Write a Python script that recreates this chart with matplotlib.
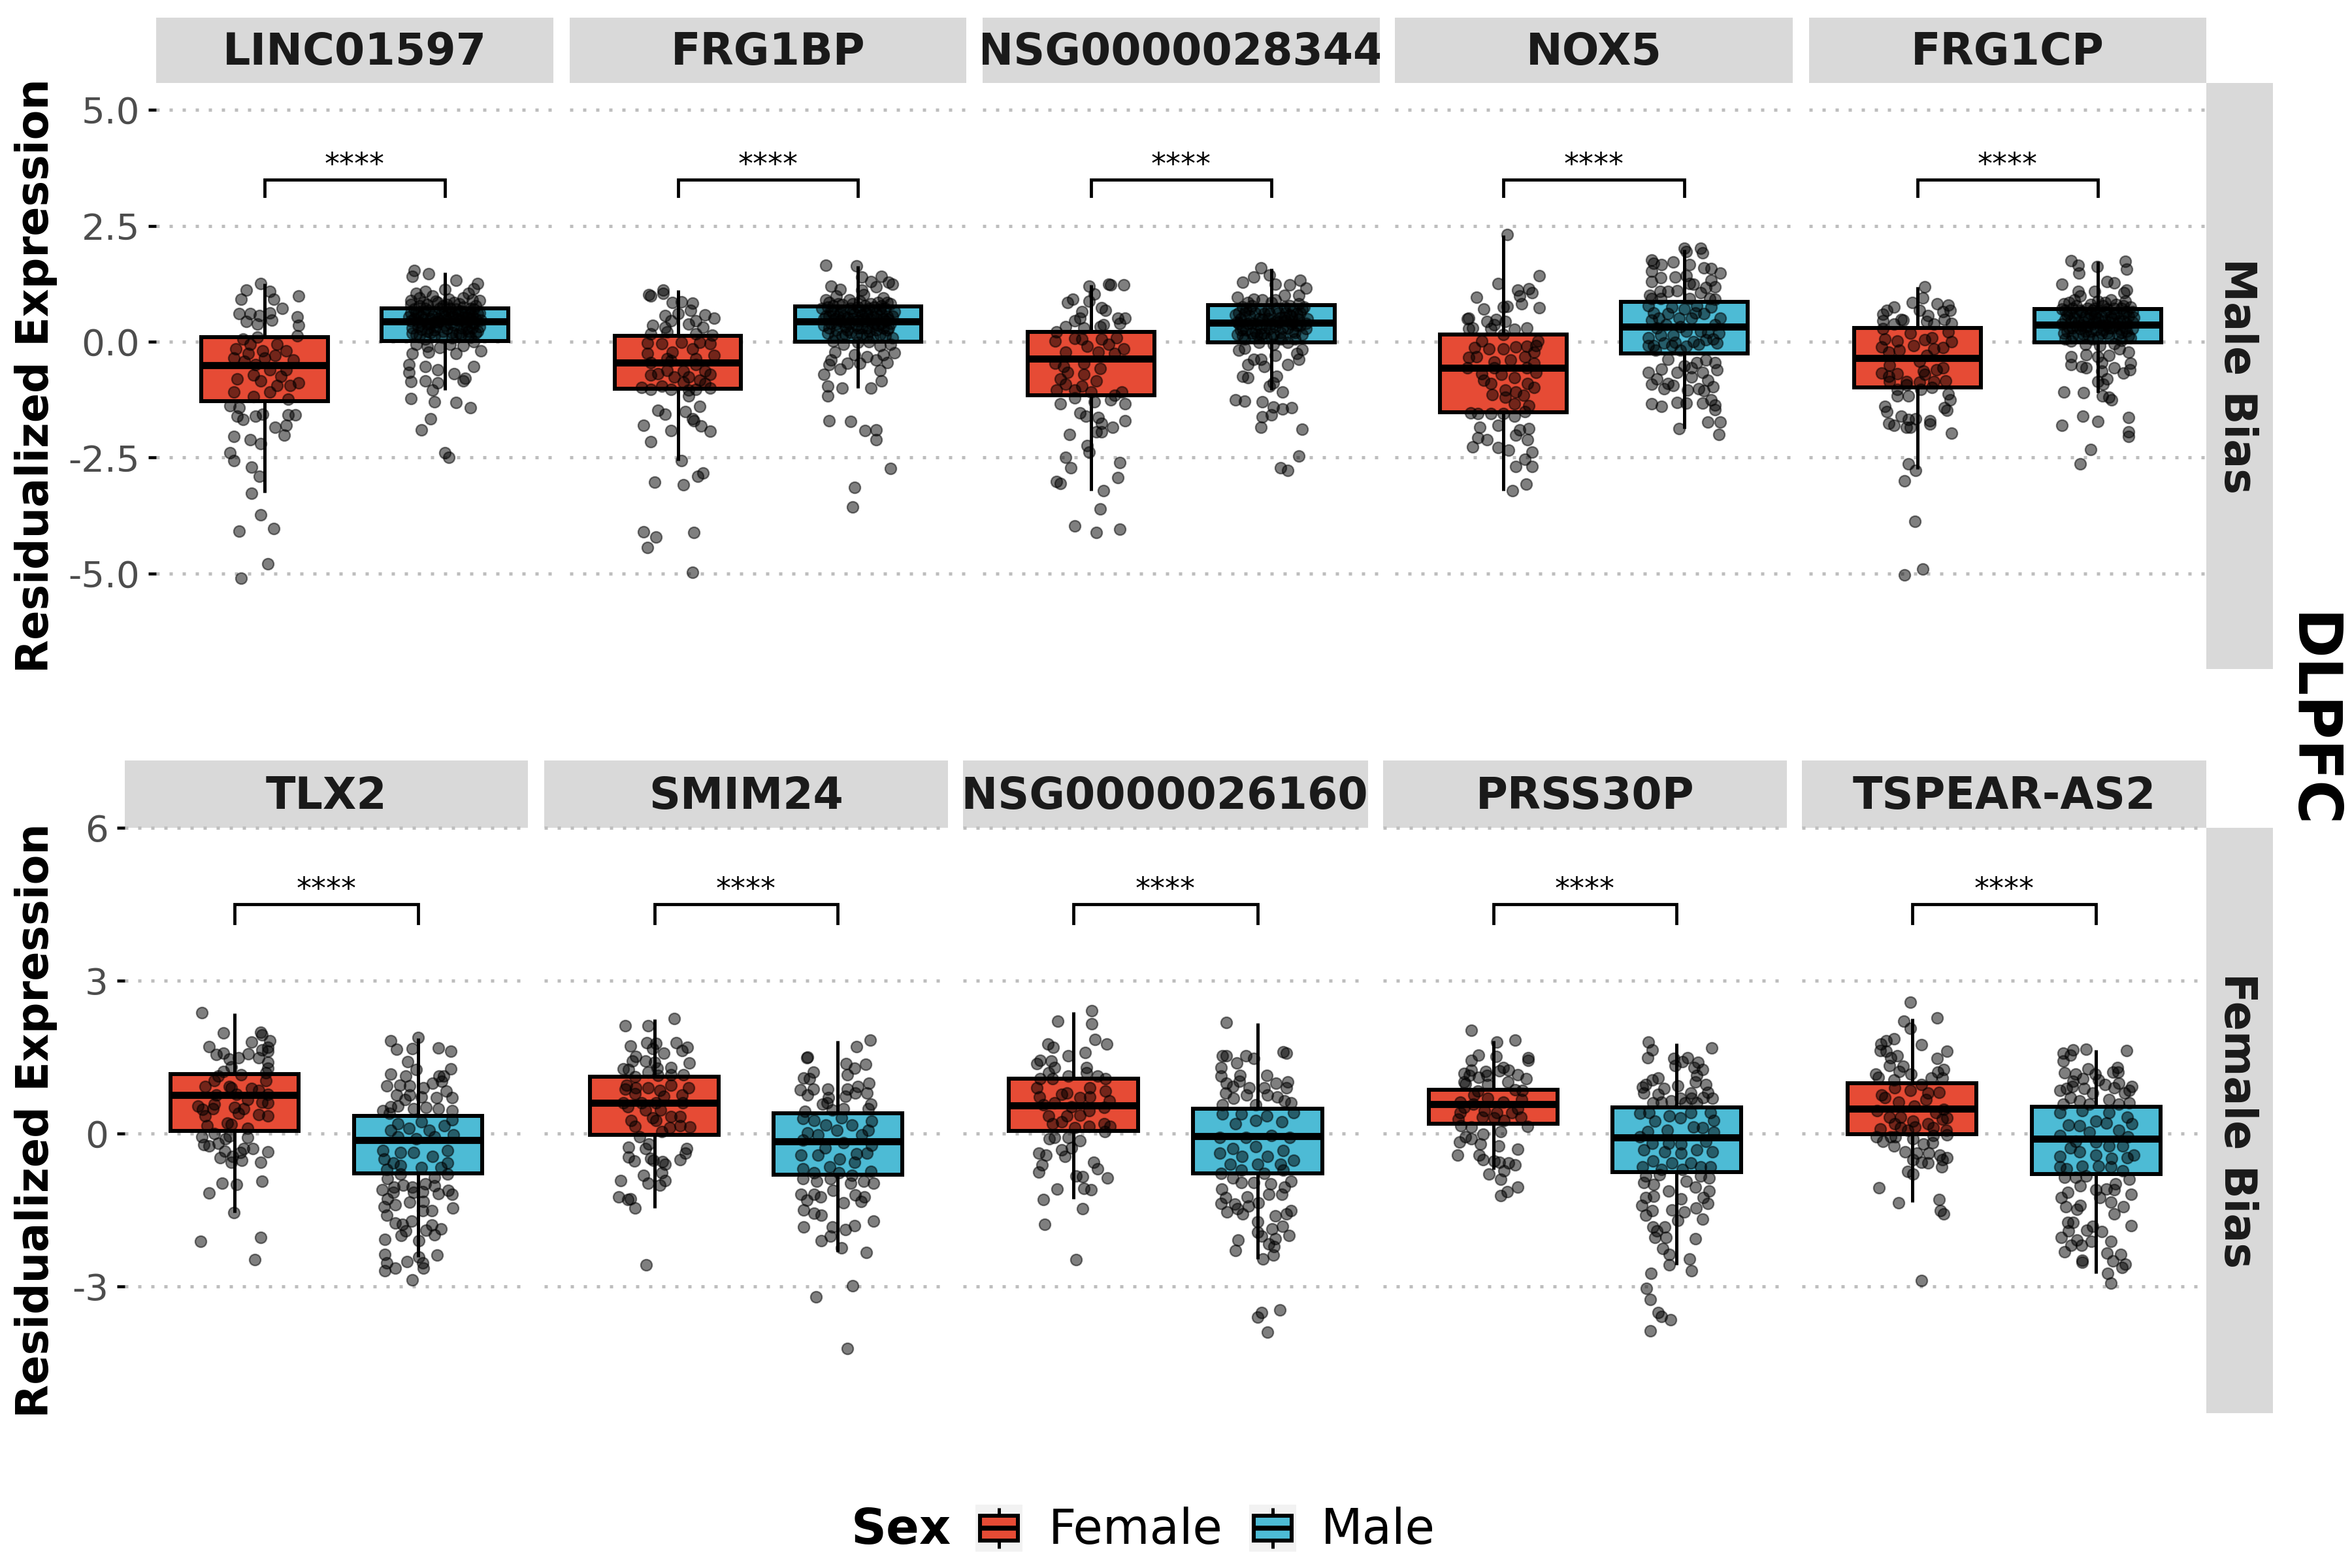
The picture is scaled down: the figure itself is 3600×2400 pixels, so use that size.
import matplotlib
matplotlib.use("Agg")
import matplotlib.pyplot as plt
from matplotlib.patches import Rectangle

plt.rcParams['font.family'] = 'DejaVu Sans'
plt.rcParams['axes.unicode_minus'] = False

FEMALE_COLOR = '#E64B35'
MALE_COLOR = '#4DBBD5'
SEX_LABELS = ['Female', 'Male']
TOP_GENES = ['LINC01597', 'FRG1BP', 'ENSG00000283440', 'NOX5', 'FRG1CP']
BOTTOM_GENES = ['TLX2', 'SMIM24', 'ENSG00000261600', 'PRSS30P', 'TSPEAR-AS2']
TOP_TICKS = [-5.0, -2.5, 0.0, 2.5, 5.0]
BOTTOM_TICKS = [-3, 0, 3, 6]

# box stats: q1, median, q3, whisker low, whisker high
BOX_LINC_F = (-1.28, -.51, .10, -3.26, 1.26)
BOX_LINC_M = (.01, .44, .72, -1.04, 1.50)
BOX_FRG1BP_F = (-1.01, -.45, .13, -2.56, 1.11)
BOX_FRG1BP_M = (0, .43, .76, -1.0, 1.64)
BOX_N283_F = (-1.16, -.36, .21, -3.21, 1.23)
BOX_N283_M = (-.02, .41, .79, -1.05, 1.58)
BOX_NOX5_F = (-1.52, -.56, .15, -3.22, 2.30)
BOX_NOX5_M = (-.25, .32, .86, -1.87, 1.99)
BOX_FRG1CP_F = (-.98, -.35, .29, -2.75, 1.19)
BOX_FRG1CP_M = (-.02, .37, .70, -1.10, 1.74)
BOX_TLX2_F = (.05, .75, 1.16, -1.55, 2.36)
BOX_TLX2_M = (-.78, -.13, .35, -2.42, 1.87)
BOX_SMIM_F = (-.03, .60, 1.12, -1.46, 2.24)
BOX_SMIM_M = (-.81, -.15, .40, -2.32, 1.82)
BOX_N261_F = (.05, .55, 1.07, -1.28, 2.39)
BOX_N261_M = (-.78, -.05, .49, -2.46, 2.17)
BOX_PRSS_F = (.19, .57, .86, -.71, 1.82)
BOX_PRSS_M = (-.76, -.08, .51, -2.58, 1.77)
BOX_TSPEAR_F = (-.02, .48, .98, -1.35, 2.26)
BOX_TSPEAR_M = (-.80, -.10, .53, -2.74, 1.64)

# jittered points: (offset from the group's centre, value)
PTS_LINC_F = [(.19,.98),(-.02,1.26),(-.10,1.11),(.03,1.08),(-.13,.92),(.05,.92),(.10,.72),(-.14,.61),(-.08,.61),(-.03,.56),(.03,.62),(.18,.54),(-.10,.44),(.04,.46),(-.04,.38),(.19,.35),(.18,.12),(-.04,.1),(-.16,-.15),(-.08,-.05),(.07,-.05),(-.01,-.2),(-.17,-.35),(-.09,-.25),(.12,-.2),(.06,-.3),(.16,-.4),(-.05,-.5),(.03,-.6),(.12,-.6),(-.15,-.8),(-.02,-.84),(.19,-.89),(-.17,-1.09),(.07,-.94),(-.06,-1.19),(.03,-1.09),(.13,-1.24),(-.19,-1.38),(-.14,-1.43),(-.15,-1.6),(-.12,-1.68),(-.05,-1.61),(-.01,-1.56),(.13,-1.58),(.17,-1.58),(.06,-1.85),(.12,-1.81),(.11,-2.01),(-.17,-2.05),(-.08,-2.12),(-.02,-2.2),(-.19,-2.4),(-.17,-2.56),(-.07,-2.71),(-.03,-2.9),(-.07,-3.27),(-.02,-3.74),(.05,-4.03),(-.14,-4.09),(.02,-4.79),(-.13,-5.1),(-.12,.05),(.0,-.35),(.09,-.75),(-.11,-.42),(.14,-.95),(-.06,-.72)]
PTS_LINC_M = [(-.17,1.53),(-.09,1.46),(-.18,1.41),(.06,1.33),(.18,1.25),(.16,1.14),(-.16,1.04),(-.11,1.09),(0,1.13),(.13,1.04),(-.19,.89),(-.04,.84),(.19,.89),(-.18,-.25),(-.09,-.22),(.06,-.25),(.2,-.2),(.16,-.54),(-.2,-.49),(-.11,-.54),(-.04,-.6),(-.2,-.66),(.05,-.69),(.11,-.79),(-.19,-.86),(-.11,-.84),(-.04,-.89),(.1,-.84),(-.07,-1.04),(-.19,-1.22),(-.06,-1.3),(.06,-1.31),(.14,-1.42),(-.08,-1.67),(-.13,-1.9),(0,-2.4),(.02,-2.49),
(-.2,.54),(-.17,.7),(-.15,.42),(-.12,.62),(-.1,.8),(-.08,.5),(-.05,.33),(-.03,.72),(0,.55),(.03,.4),(.05,.85),(.07,.6),(.09,.3),(.12,.52),(.14,.72),(.16,.4),(.18,.6),(.2,.47),(-.18,.3),(-.16,.15),(-.13,.27),(-.11,.05),(-.08,.2),(-.06,.6),(-.02,.1),(.01,.28),(.04,.62),(.06,.15),(.08,.45),(.1,.75),(.13,.22),(.15,.55),(.17,.18),(.19,.33),(-.19,.8),(-.14,.95),(-.07,.98),(.02,.92),(.1,.95),(.15,.9),(-.15,.6),(-.1,.38),(-.04,.5),(.02,.65),(.08,.18),(.12,.38),(.17,.77),(-.16,-.05),(-.1,-.1),(-.03,-.12),(.03,-.06),(.1,-.08),(.16,0),(-.12,.48),(-.06,.42),(0,.35),(.06,.48),(.11,.64),(-.01,.78),(-.09,.68),(.04,.2),(-.14,.78),(.14,.1),
(-.19,.45),(-.16,.62),(-.13,.4),(-.11,.72),(-.09,.3),(-.07,.55),(-.04,.42),(-.02,.6),(.01,.48),(.03,.72),(.05,.35),(.07,.5),(.09,.66),(.11,.42),(.13,.58),(.15,.3),(.17,.5),(.19,.62),(-.18,.18),(-.14,.12),(-.1,.22),(-.06,.12),(-.01,.22),(.04,.08),(.09,.15),(.13,.12),(.18,.22),(-.17,.5),(-.12,.85),(-.05,.88),(.01,.8),(.08,.82),(.14,.5),(-.15,.32),(-.08,.4),(.0,.65),(.06,.7),(.12,.28),(.16,.7),(-.03,.45),(.1,.52),(-.13,.55),(.04,.55),(-.06,.25),(.15,.42),(-.19,.62)]
PTS_FRG1BP_F = [(-.16,1.01),(-.15,.99),(-.08,1.12),(-.08,1.04),(-.03,.85),(.02,.86),(.08,.83),(.07,.68),(-.07,.56),(0,.6),(.15,.58),(.2,.51),(-.14,.35),(-.04,.45),(.06,.38),(.1,.45),(.14,.31),(-.07,.31),(-.15,.17),(-.06,.21),(.1,.17),(.19,.14),(-.17,-.03),(-.09,-.04),(.02,-.02),(.12,-.01),(.18,-.04),(.08,-.16),(-.17,-.25),(-.03,-.23),(.2,-.29),(.1,-.36),(-.06,-.37),(-.04,-.41),(-.15,-.45),(.1,-.5),(-.11,-.69),(-.15,-.72),(-.06,-.62),(.03,-.64),(.06,-.76),(.15,-.64),(.18,-.71),(-.02,-.76),(.12,-.83),(.03,-.88),(.15,-.9),(-.2,-.98),(-.15,-1.03),(-.09,-.96),(-.04,-1.03),(.06,-1.05),(.18,-1.0),(.1,-1.03),(.06,-1.17),(.12,-1.39),(-.11,-1.48),(-.07,-1.56),(.04,-1.51),(.08,-1.66),(.09,-1.71),(.13,-1.82),(-.19,-1.81),(-.04,-1.92),(.18,-1.93),(-.15,-2.15),(.02,-2.57),(.14,-2.83),(.11,-2.91),(-.13,-3.03),(.03,-3.08),(-.19,-4.1),(-.12,-4.22),(.09,-4.11),(-.17,-4.44),(.08,-4.97)]
PTS_FRG1BP_M = [(-.18,1.65),(-.01,1.63),(.02,1.4),(.13,1.41),(.07,1.3),(-.15,1.2),(-.1,1.13),(.17,1.28),(.19,1.24),(.1,1.18),(.02,1.11),(-.19,-.7),(-.17,-.96),(-.09,-1.0),(.07,-1.0),(.13,-.85),(-.17,-1.17),(-.16,-1.71),(-.04,-1.72),(.04,-1.91),(.1,-1.9),(.1,-2.11),(.18,-2.73),(-.02,-3.14),(-.03,-3.57),(-.15,-.4),(-.1,-.59),(-.16,-.5),(-.06,-.47),(.01,-.47),(.1,-.4),(.12,-.62),(.16,-.45),(.2,-.24),(.14,-.28),(-.13,-.23),(-.02,-.28),(.05,-.33),
(-.2,.72),(-.18,.9),(-.16,.55),(-.14,.78),(-.12,.98),(-.1,.45),(-.08,.68),(-.05,.9),(-.03,.5),(0,.75),(.03,1.02),(.05,.6),(.07,.82),(.09,.4),(.12,.7),(.14,.95),(.16,.55),(.18,.82),(.2,.65),(-.19,.35),(-.17,.18),(-.15,.4),(-.12,.25),(-.09,.12),(-.07,.32),(-.04,.2),(-.01,.35),(.02,.15),(.05,.3),(.08,.1),(.1,.25),(.13,.4),(.15,.12),(.17,.3),(.19,.08),(-.14,.02),(-.08,-.05),(.0,-.02),(.06,.0),(.12,-.08),(.18,-.05),(-.16,.85),(-.1,.62),(-.06,.52),(-.02,.6),(.01,.88),(.04,.45),(.08,.55),(.11,.85),(.15,.72),(.17,.48),(-.18,.55),(-.11,.82),(-.04,.72),(.02,.58),(.06,.72),(.1,.5),(.13,.6),(-.13,.5),(-.07,.42),(.0,.45),(.04,.78),(.14,.3),
(-.19,.5),(-.15,.68),(-.12,.38),(-.09,.8),(-.06,.25),(-.03,.65),(-.01,.15),(.03,.5),(.06,.22),(.09,.75),(.11,.35),(.14,.5),(.16,.85),(.18,.4),(-.17,.75),(-.13,.12),(-.08,.55),(-.05,.4),(.0,.3),(.04,.62),(.08,.35),(.12,.15),(.16,.25),(.19,.55),(-.16,.3),(-.11,.55),(-.03,.82),(.02,.3),(.07,.48),(.13,.78),(-.14,.62),(-.07,.15),(.01,.68),(.05,.12),(.1,.62),(.15,.45)]
PTS_N283_F = [(-.01,1.2),(.1,1.24),(.11,1.22),(.18,1.23),(.02,1.03),(-.1,.92),(-.13,.85),(-.01,.87),(-.05,.65),(.06,.73),(.08,.67),(.15,.51),(.19,.51),(-.06,.51),(.16,.39),(-.09,.45),(.07,.37),(-.14,.33),(-.19,.21),(.05,.33),(-.04,.29),(-.2,.02),(-.09,.07),(-.05,.06),(.06,.06),(.14,.09),(-.02,-.1),(.1,-.06),(.18,-.16),(-.14,-.22),(.04,-.22),(.13,-.26),(-.2,-.46),(-.04,-.46),(-.15,-.54),(.05,-.58),(-.13,-.66),(-.04,-.7),(-.17,-.81),(.03,-.85),(-.14,-.91),(-.05,-.96),(-.19,-1.04),(-.09,-1.05),(0,-1.09),(.13,-1.15),(.17,-1.09),(-.09,-1.21),(.02,-1.29),(.11,-1.25),(-.17,-1.34),(.19,-1.34),(-.06,-1.54),(-.03,-1.6),(.04,-1.64),(.06,-1.76),(.19,-1.7),(.12,-1.84),(.03,-1.94),(.06,-1.94),(-.12,-2.0),(-.02,-2.24),(-.01,-2.38),(-.14,-2.5),(-.11,-2.72),(.16,-2.61),(.15,-2.93),(-.19,-3.01),(-.17,-3.06),(.07,-3.21),(.05,-3.61),(-.09,-3.98),(.16,-4.04),(.03,-4.11)]
PTS_N283_M = [(-.06,1.59),(-.01,1.44),(-.1,1.4),(-.16,1.28),(.16,1.32),(.1,1.23),(.19,1.16),(.02,1.24),(-.19,.96),(.15,1.0),(.07,1.0),(-.18,-.18),(-.15,-.14),(.14,-.26),(.17,-.17),(-.1,-.38),(-.06,-.38),(.02,-.3),(.15,-.38),(-.13,-.5),(-.04,-.54),(.09,-.5),(-.16,-.74),(-.13,-.77),(.03,-.74),(.01,-.89),(-.01,-.96),(.06,-1.08),(-.2,-1.26),(-.15,-1.28),(-.05,-1.29),(.01,-1.41),(.06,-1.45),(.11,-1.43),(0,-1.58),(-.05,-1.62),(-.06,-1.85),(.17,-1.89),(.15,-2.47),(.05,-2.72),(.09,-2.77),
(-.2,.58),(-.18,.4),(-.16,.75),(-.14,.25),(-.12,.55),(-.1,.92),(-.08,.38),(-.06,.7),(-.04,.18),(-.02,.5),(0,.85),(.02,.32),(.04,.62),(.06,.1),(.08,.45),(.1,.78),(.12,.22),(.14,.6),(.16,.35),(.18,.75),(.2,.5),(-.19,.15),(-.15,.05),(-.11,.18),(-.07,-.02),(-.03,.08),(.01,-.05),(.05,.2),(.09,-.02),(.13,.05),(.17,.15),(-.17,.5),(-.13,.85),(-.09,.62),(-.05,.48),(-.01,.28),(.03,.72),(.07,.52),(.11,.38),(.15,.82),(.19,.28),(-.14,.68),(-.08,.15),(-.02,.68),(.04,.42),(.1,.58),(-.16,.28),(-.11,.4),(-.06,.3),(.0,.1),(.06,.3),(.12,.42),(.16,.62),
(-.19,.42),(-.17,.25),(-.15,.6),(-.13,.4),(-.11,.78),(-.09,.22),(-.07,.5),(-.05,.9),(-.03,.35),(-.01,.6),(.01,.15),(.03,.45),(.05,.05),(.07,.75),(.09,.3),(.11,.55),(.13,.2),(.15,.48),(.17,.7),(.19,.4),(-.16,.12),(-.12,.7),(-.1,.08),(-.04,.6),(.0,.4),(.02,.9),(.08,.62),(.14,.35),(-.18,.62),(-.06,.15),(.05,.52),(.12,.68)]
PTS_NOX5_F = [(.02,2.31),(.2,1.43),(-.03,1.26),(.08,1.12),(.14,1.14),(.16,1.06),(-.15,.96),(.09,.98),(.1,.82),(.2,.73),(-.11,.71),(0,.75),(.02,.76),(-.19,.51),(-.2,.49),(-.09,.44),(-.04,.48),(.01,.44),(-.05,.37),(-.19,.28),(-.17,.29),(-.07,.28),(.06,.27),(.13,.29),(0,.15),(-.12,.02),(.19,.02),(-.16,-.12),(-.08,-.15),(0,-.15),(.07,-.11),(.13,-.1),(.18,-.08),(.17,-.22),(-.19,-.34),(-.15,-.32),(.04,-.4),(.12,-.33),(-.05,-.43),(.17,-.47),(-.2,-.57),(-.05,-.57),(.13,-.57),(.18,-.66),(-.12,-.69),(-.01,-.71),(.06,-.78),(-.11,-.83),(-.07,-.9),(.135,-.9),(.17,-.99),(.01,-1.04),(-.06,-1.14),(.07,-1.08),(.11,-1.15),(.01,-1.2),(.06,-1.34),(.14,-1.38),(-.18,-1.54),(-.14,-1.55),(-.07,-1.55),(0,-1.55),(.06,-1.61),(.12,-1.51),(-.13,-1.84),(-.03,-1.81),(.09,-1.9),(.14,-1.87),(.07,-2.02),(-.14,-2.07),(-.09,-2.11),(.135,-2.12),(-.17,-2.27),(-.03,-2.28),(.03,-2.34),(.16,-2.38),(.12,-2.54),(.07,-2.69),(.16,-2.69),(.125,-3.07),(.05,-3.22)]
PTS_NOX5_M = [(0,2.01),(.01,1.94),(.09,2.01),(.1,1.92),(-.18,1.76),(-.17,1.69),(-.125,1.66),(-.06,1.72),(.03,1.66),(.11,1.59),(.15,1.58),(.2,1.48),(-.18,1.52),(-.13,1.38),(-.05,1.4),(.01,1.43),(.03,1.26),(.05,1.24),(.15,1.33),(-.18,1.29),(.17,1.18),(.12,1.17),(-.09,1.08),(-.135,1.08),(-.04,1.1),(-.19,1.0),(.09,1.05),(.14,.93),(.03,.93),(.17,.91),(-.13,.93),(-.18,.93),(-.2,.77),(-.14,.51),(-.07,.75),(0,.7),(.07,.77),(.15,.75),(.2,.51),(-.18,.46),(-.03,.51),(.04,.51),(.11,.61),(-.1,.37),(.17,.37),(-.2,.09),(-.13,.14),(-.06,.14),(.01,.23),(.09,.23),(.19,.18),(-.17,-.08),(-.07,-.08),(.01,-.1),(.12,.04),(.18,-.03),(-.2,-.08),(-.11,-.03),(.08,-.05),(-.16,-.19),(-.02,-.19),(-.09,-.38),(.07,-.45),(.17,-.45),(.12,-.4),(0,-.52),(.04,-.57),(.18,-.61),(-.2,-.66),(-.125,-.59),(-.04,-.66),(.1,-.66),(-.15,-.8),(.04,-.76),(.13,-.83),(-.18,-.92),(-.09,-.9),(-.06,-.94),(.08,-1.01),(-.11,-1.01),(.02,-1.04),(.11,-1.06),(.16,-.97),(-.18,-1.34),(-.125,-1.4),(-.04,-1.31),(.01,-1.32),(.1,-1.33),(.15,-1.25),(.17,-1.37),(.17,-1.46),(.13,-1.74),(.2,-1.74),(-.03,-1.87),(.19,-2.0),(-.15,.3),(-.09,.6),(-.02,.32),(.06,.62),(.13,.2),(-.17,.62),(.16,.05),(-.05,-.02),(.05,.0)]
PTS_FRG1CP_F = [(.04,1.19),(.03,.94),(-.03,.85),(-.13,.74),(.01,.68),(.11,.82),(.17,.79),(.18,.67),(.14,.65),(-.17,.67),(-.19,.59),(-.09,.48),(-.08,.46),(.06,.57),(.15,.48),(.19,.4),(-.19,.45),(.05,.43),(-.13,.38),(.09,.38),(-.19,.28),(-.04,.18),(.17,.21),(.08,.09),(-.18,.05),(-.11,.01),(.04,.04),(.19,0),(-.2,-.11),(-.02,-.08),(.14,-.12),(-.1,-.18),(.09,-.16),(-.16,-.23),(.05,-.3),(.01,-.42),(-.155,-.51),(.14,-.57),(.105,-.61),(-.2,-.67),(.035,-.64),(-.11,-.69),(-.16,-.74),(.04,-.71),(-.06,-.86),(.155,-.85),(-.155,-.86),(.01,-.88),(.09,-.86),(-.06,-.93),(-.11,-1.03),(.02,-1.03),(.08,-.98),(-.11,-1.17),(-.05,-1.17),(.17,-1.13),(.18,-1.26),(-.18,-1.4),(-.17,-1.51),(.15,-1.42),(.165,-1.48),(-.09,-1.61),(-.01,-1.66),(-.05,-1.68),(.07,-1.71),(.07,-1.77),(-.16,-1.76),(-.13,-1.8),(-.06,-1.84),(-.04,-1.85),(.19,-1.98),(-.05,-2.63),(-.01,-2.77),(-.07,-3.0),(-.015,-3.88),(.03,-4.9),(-.07,-5.03)]
PTS_FRG1CP_M = [(-.15,1.75),(-.11,1.65),(-.105,1.48),(-.005,1.62),(.15,1.74),(.16,1.57),(-.2,1.24),(.05,1.29),(.09,1.27),(-.11,1.08),(-.02,1.08),(.145,1.06),(.16,1.11),(-.15,-.33),(-.065,-.28),(.06,-.29),(.12,-.16),(.17,-.23),(0,-.33),(-.15,-.49),(-.09,-.54),(-.065,-.57),(.18,-.47),(.02,-.45),(.09,-.57),(.02,-.64),(.175,-.61),(.14,-.67),(.05,-.81),(0,-.86),(.03,-.92),(-.19,-1.08),(-.08,-1.1),(.025,-1.17),(.06,-1.2),(.075,-1.25),(-.085,-1.61),(0,-1.72),(.17,-1.64),(-.2,-1.8),(.17,-1.95),(.17,-2.05),(-.04,-2.33),(-.1,-2.63),
(-.2,.7),(-.18,.48),(-.16,.85),(-.14,.3),(-.12,.62),(-.1,.98),(-.08,.42),(-.06,.72),(-.04,.22),(-.02,.55),(0,.88),(.02,.35),(.04,.65),(.06,.12),(.08,.5),(.1,.8),(.12,.28),(.14,.62),(.16,.4),(.18,.75),(.2,.52),(-.19,.18),(-.15,.02),(-.11,.15),(-.07,-.05),(-.03,.05),(.01,-.08),(.05,.18),(.09,-.04),(.13,.03),(.17,.12),(-.17,.58),(-.13,.9),(-.09,.65),(-.05,.5),(-.01,.25),(.03,.78),(.07,.55),(.11,.4),(.15,.88),(.19,.28),(-.14,.72),(-.08,.15),(-.02,.72),(.04,.45),(.1,.6),(-.16,.3),(-.11,.42),(-.06,.32),(.0,.1),(.06,.3),(.12,.45),(.16,.65),(-.19,.82),(-.12,.78),(-.04,.8),(.07,.9),(.14,.78),(-.15,.45),(-.03,.38),(.02,.55),(.13,.2),(-.18,.05),(.18,.08),(.19,.42),(-.07,.55),(.09,.72),(-.01,.62),(-.1,.28),(.05,.35),
(-.2,.38),(-.17,.22),(-.13,.52),(-.1,.68),(-.07,.22),(-.04,.6),(-.01,.42),(.02,.18),(.04,.85),(.06,.42),(.09,.6),(.11,.15),(.13,.72),(.15,.3),(.17,.55),(.19,.65),(-.16,.6),(-.09,.35),(-.05,.12),(.0,.5),(.08,.3),(.14,.45),(-.14,.12),(-.03,.68),(.03,.25),(.1,.35),(-.18,.68),(.16,.22),(-.12,.35),(.05,.7)]
PTS_TLX2_F = [(-.18,2.37),(-.06,1.97),(.14,1.99),(.15,1.94),(.19,1.82),(.09,1.79),(-.14,1.7),(.18,1.69),(.15,1.64),(.18,1.62),(-.1,1.55),(-.06,1.58),(.075,1.56),(.02,1.49),(-.03,1.46),(.13,1.49),(.18,1.39),(.18,1.28),(-.02,1.31),(-.06,1.22),(.17,1.19),(.035,1.15),(-.09,1.13),(.17,1.04),(-.16,.92),(-.11,1.04),(-.03,.92),(-.02,.9),(.09,.88),(.13,.85),(-.1,.75),(.01,.77),(.18,.77),(.07,.66),(-.11,.57),(.15,.62),(.18,.6),(-.2,.54),(0,.51),(.05,.49),(-.175,.47),(-.12,.49),(.02,.4),(.13,.37),(.18,.34),(-.16,.34),(-.04,.2),(-.15,.15),(.07,.1),(-.02,.18),(-.11,0),(-.18,-.07),(-.03,-.05),(.07,-.08),(-.17,-.22),(-.14,-.25),(-.09,-.2),(-.05,-.1),(.1,-.3),(.05,-.3),(-.055,-.35),(.18,-.36),(-.08,-.48),(-.01,-.45),(.03,-.37),(-.02,-.57),(.04,-.53),(.14,-.56),(-.07,-.98),(.01,-1.0),(.15,-.94),(-.14,-1.17),(-.005,-1.55),(.14,-2.04),(-.185,-2.12),(.11,-2.48)]
PTS_TLX2_M = [(-.15,1.82),(0,1.88),(-.115,1.65),(-.03,1.66),(.11,1.68),(.18,1.62),(-.055,1.41),(.18,1.27),(-.01,1.26),(-.15,1.16),(-.065,1.13),(.14,1.13),(.115,1.13),(-.17,.93),(-.1,.95),(-.045,.94),(.03,.9),(.08,.98),(.13,1.02),(.155,.83),(-.115,.75),(-.045,.75),(.02,.72),(.1,.7),(.185,.7),(-.07,.66),(-.15,.53),(-.11,.54),(-.19,.45),(-.025,.49),(.045,.51),(.11,.49),(.185,.45),(-.155,.4),(-.11,.19),(.02,.23),(.185,.27),(-.15,.06),(-.05,.1),(.06,.06),(.145,.15),(-.19,-.33),(-.11,-.07),(-.01,-.11),(.09,-.07),(.195,-.03),(-.185,-.5),(-.095,-.37),(-.025,-.37),(.08,-.45),(.16,-.33),(.16,-.58),(-.095,-.63),(.02,-.67),(-.17,-.71),(.125,-.67),(-.135,-.58),(-.165,-.88),(-.095,-.8),(.09,-.86),(.16,-.8),(-.13,-1.05),(-.08,-1.01),(.04,-.99),(-.03,-1.05),(-.195,-1.1),(.09,-1.03),(-.135,-1.16),(-.025,-1.16),(.025,-1.14),(.165,-1.12),(.11,-1.18),(.185,-1.2),(-.165,-1.29),(-.045,-1.35),(.03,-1.33),(-.125,-1.4),(-.185,-1.44),(.19,-1.46),(.025,-1.52),(.075,-1.52),(-.17,-1.61),(-.125,-1.76),(-.085,-1.78),(-.035,-1.72),(.075,-1.8),(.125,-1.87),(.045,-1.9),(-.065,-1.91),(.09,-1.99),(-.09,-2.0),(-.18,-2.08),(.005,-2.1),(-.18,-2.37),(.005,-2.42),(.105,-2.39),(-.17,-2.54),(-.06,-2.52),(.025,-2.54),(-.125,-2.64),(-.18,-2.69),(.03,-2.64),(-.03,-2.87)]
PTS_SMIM_F = [(.11,2.25),(-.16,2.11),(-.035,2.11),(-.13,1.72),(-.04,1.78),(.01,1.77),(-.01,1.66),(.12,1.78),(.18,1.69),(.15,1.63),(.05,1.57),(-.1,1.51),(-.12,1.42),(-.05,1.42),(0,1.39),(.19,1.38),(-.17,1.27),(-.14,1.25),(.015,1.28),(.09,1.29),(-.035,1.21),(-.105,1.12),(.09,1.15),(.16,1.15),(.02,1.14),(-.15,.95),(-.16,.87),(-.1,.9),(-.035,.9),(.09,.95),(.185,.9),(.03,.85),(.15,.75),(-.105,.78),(.05,.73),(-.17,.6),(-.145,.53),(-.07,.6),(.155,.6),(.01,.6),(-.05,.46),(.035,.46),(-.01,.31),(.09,.33),(.14,.33),(-.125,.25),(-.105,.14),(.01,.26),(.14,.15),(.195,.13),(.085,.11),(.04,.04),(-.08,-.06),(-.03,-.21),(-.05,-.3),(-.14,-.27),(.175,-.3),(.17,-.39),(-.14,-.46),(-.11,-.54),(-.02,-.49),(-.005,-.53),(.14,-.51),(.045,-.55),(.06,-.6),(.04,-.77),(-.06,-.82),(.06,-.92),(-.185,-.93),(-.035,-.98),(.03,-1.02),(-.195,-1.25),(-.145,-1.3),(-.13,-1.29),(-.105,-1.46),(-.045,-2.58)]
PTS_SMIM_M = [(.175,1.83),(.1,1.7),(-.165,1.5),(-.17,1.48),(.045,1.37),(.15,1.36),(.09,1.28),(.05,1.15),(-.135,1.2),(-.155,1.07),(-.185,1.09),(.17,.98),(-.055,.87),(.05,.87),(.11,.92),(-.205,.86),(-.135,.87),(.16,.79),(-.165,.75),(.04,.73),(-.05,.7),(.095,.8),(.18,.57),(-.085,.57),(-.06,.6),(.03,.48),(-.18,.43),(.165,.48),(-.03,.46),(-.19,.29),(-.13,.26),(.02,.31),(.185,.24),(-.065,.16),(.075,.16),(.165,.06),(-.165,.01),(-.005,.06),(-.11,-.03),(.13,-.03),(-.19,-.13),(.03,-.18),(-.07,-.28),(.185,-.23),(-.2,-.43),(-.11,-.43),(.01,-.5),(.1,-.4),(.16,-.38),(-.045,-.65),(-.19,-.7),(-.13,-.77),(.09,-.57),(.18,-.75),(.005,-.77),(.075,-.82),(-.19,-.89),(-.115,-.94),(-.04,-.89),(.07,-.97),(.14,-.94),(.195,-.97),(-.025,-1.12),(-.2,-1.19),(-.13,-1.19),(-.095,-1.24),(.095,-1.21),(.145,-1.24),(-.17,-1.31),(.125,-1.34),(.03,-1.36),(-.185,-1.5),(-.13,-1.56),(-.09,-1.6),(-.185,-1.83),(.195,-1.72),(-.03,-1.84),(.04,-1.89),(.09,-1.81),(-.04,-2.02),(-.09,-2.1),(.02,-2.25),(.155,-2.33),(.08,-2.99),(-.12,-3.21),(.05,-4.22)]
PTS_N261_F = [(.1,2.41),(-.085,2.21),(.1,2.15),(.115,1.84),(.18,1.75),(-.14,1.75),(-.11,1.69),(-.03,1.52),(.065,1.59),(-.18,1.43),(-.12,1.42),(-.2,1.37),(-.105,1.3),(.07,1.3),(-.135,1.19),(.07,1.19),(-.18,1.07),(-.03,1.13),(.13,1.13),(.175,1.07),(-.115,1.07),(-.2,.9),(-.065,.77),(.09,.9),(.175,.83),(-.185,.72),(-.035,.79),(.035,.7),(.195,.64),(.09,.72),(-.165,.56),(-.105,.6),(-.01,.53),(.165,.51),(.085,.45),(-.135,.34),(-.035,.34),(.035,.36),(-.115,.19),(-.065,.23),(.165,.19),(.085,.14),(.005,.11),(.2,.14),(-.13,-.11),(-.105,-.08),(-.03,-.08),(.035,-.14),(.17,.04),(-.065,-.32),(-.01,-.29),(-.19,-.38),(-.15,-.43),(-.045,-.45),(-.17,-.62),(.11,-.57),(-.19,-.76),(.13,-.69),(.015,-.83),(.05,-.85),(.185,-.87),(-.09,-1.09),(.055,-1.08),(.095,-1.11),(-.165,-1.3),(.05,-1.48),(-.155,-1.78),(.015,-2.48)]
PTS_N261_M = [(-.17,2.18),(.14,1.6),(.155,1.58),(-.19,1.53),(-.17,1.52),(-.065,1.52),(-.02,1.47),(-.115,1.38),(-.2,1.3),(-.2,1.13),(-.095,1.14),(.05,1.14),(-.1,1.03),(.165,1.01),(-.17,.98),(.1,.99),(-.135,.92),(-.045,.9),(.035,.9),(.155,.9),(-.175,.79),(-.06,.75),(.055,.75),(.105,.72),(-.13,.69),(.145,.64),(-.19,.56),(-.01,.56),(.18,.6),(-.19,.38),(-.09,.38),(.05,.34),(.195,.41),(-.12,.19),(-.01,.26),(.13,.23),(-.205,-.08),(-.065,-.08),(.075,-.04),(.175,-.08),(-.135,-.3),(-.01,-.26),(.14,-.34),(-.205,-.38),(-.085,-.45),(.055,-.45),(.195,-.53),(-.15,-.6),(0,-.6),(.125,-.6),(-.09,-.72),(-.2,-.79),(-.135,-.87),(.035,-.79),(.14,-.72),(-.09,-.96),(-.02,-.96),(.07,-.99),(.18,-.94),(-.195,-1.09),(.145,-1.05),(.06,-1.2),(.13,-1.19),(-.055,-1.24),(-.175,-1.26),(-.2,-1.37),(.005,-1.36),(-.125,-1.39),(-.05,-1.43),(-.165,-1.54),(-.11,-1.47),(-.08,-1.58),(.18,-1.52),(.155,-1.58),(.095,-1.62),(0,-1.73),(.135,-1.82),(.08,-1.88),(0,-1.94),(.17,-2.0),(.02,-2.02),(-.105,-2.09),(.095,-2.07),(.06,-2.17),(.09,-2.22),(-.12,-2.3),(.085,-2.39),(.03,-2.46),(.12,-3.46),(.02,-3.52),(0,-3.61),(.055,-3.9)]
PTS_PRSS_F = [(-.12,2.02),(.12,1.83),(.02,1.8),(-.08,1.54),(.015,1.51),(-.12,1.43),(.19,1.48),(.19,1.43),(-.12,1.24),(-.04,1.22),(.055,1.29),(.035,1.23),(.085,1.24),(-.16,1.18),(-.13,1.14),(-.035,1.14),(-.08,1.1),(.135,1.15),(.18,1.08),(-.16,1.01),(-.15,.97),(.08,1.01),(-.03,.96),(.12,.86),(.16,.84),(-.085,.83),(-.18,.62),(-.105,.75),(-.03,.69),(.055,.62),(.155,.66),(-.16,.51),(-.05,.45),(.135,.49),(-.11,.58),(-.18,.41),(.02,.41),(.1,.41),(-.19,.28),(-.06,.32),(.005,.3),(.15,.32),(.06,.26),(-.175,.15),(-.12,.13),(.185,.14),(.04,.04),(-.055,-.02),(-.15,-.06),(-.12,-.11),(-.185,-.17),(-.07,-.21),(.03,-.25),(.135,-.31),(-.195,-.42),(-.075,-.42),(-.055,-.51),(.005,-.54),(.035,-.56),(.085,-.58),(.12,-.62),(.06,-.73),(-.025,-.8),(.04,-.9),(.135,-1.05),(.075,-1.14),(.04,-1.22)]
PTS_PRSS_M = [(-.155,1.79),(-.135,1.64),(.19,1.68),(-.16,1.49),(-.015,1.47),(.06,1.48),(.03,1.41),(-.01,1.33),(.115,1.39),(.095,1.29),(.14,1.26),(.11,1.14),(-.1,1.09),(-.135,1.05),(.1,1.01),(-.17,.96),(.16,.96),(-.185,.91),(.005,.93),(-.07,.88),(-.18,.8),(-.1,.77),(.075,.79),(.17,.81),(.02,.69),(.08,.69),(.195,.69),(.145,.71),(-.13,.6),(-.085,.62),(-.03,.64),(.045,.6),(.11,.6),(-.2,.39),(-.15,.41),(-.04,.34),(.075,.41),(.185,.41),(-.12,.24),(.02,.3),(.2,.26),(.14,.11),(-.16,.04),(-.05,.06),(.09,.13),(-.2,-.06),(.2,.02),(-.135,-.19),(-.045,-.19),(.025,-.21),(.16,-.15),(-.18,-.32),(-.065,-.36),(.11,-.32),(.195,-.36),(.025,-.39),(-.13,-.54),(-.025,-.58),(-.185,-.66),(.075,-.58),(.185,-.66),(.13,-.66),(-.085,-.71),(.03,-.71),(-.17,-.84),(-.095,-.81),(.13,-.84),(.175,-.87),(-.18,-.96),(-.125,-1.0),(.05,-.94),(.1,-1.05),(-.045,-1.13),(.175,-1.13),(-.17,-1.26),(-.125,-1.23),(.025,-1.29),(.145,-1.26),(.17,-1.37),(-.19,-1.41),(-.135,-1.52),(-.17,-1.61),(-.025,-1.5),(.105,-1.46),(.04,-1.54),(.14,-1.68),(.005,-1.71),(-.13,-1.84),(-.065,-1.84),(-.11,-1.91),(-.12,-2.04),(-.06,-2.04),(.1,-2.06),(-.075,-2.26),(-.04,-2.37),(.07,-2.46),(-.04,-2.58),(.08,-2.7),(-.14,-2.75),(-.165,-3.04),(-.145,-3.26),(-.1,-3.51),(-.085,-3.59),(-.035,-3.66),(-.145,-3.87)]
PTS_TSPEAR_F = [(-.01,2.57),(.135,2.27),(-.045,2.2),(-.01,2.06),(-.1,1.86),(-.14,1.82),(-.17,1.76),(.05,1.74),(-.175,1.63),(.19,1.62),(-.14,1.61),(-.08,1.52),(-.115,1.49),(.135,1.47),(-.125,1.33),(-.05,1.32),(-.07,1.22),(.17,1.26),(.14,1.2),(-.2,1.17),(-.005,1.16),(-.185,1.1),(.105,1.09),(.165,1.09),(-.1,1.05),(.05,.96),(-.095,.9),(-.01,.84),(.145,.81),(-.165,.75),(.085,.79),(-.075,.62),(.075,.66),(-.15,.71),(.01,.54),(.17,.47),(-.19,.45),(.13,.41),(-.125,.32),(-.065,.32),(.19,.3),(.005,.24),(.165,.28),(-.095,.19),(.085,.19),(-.175,.09),(.015,.13),(-.065,.11),(.115,.11),(-.025,.06),(.185,.06),(-.195,-.06),(-.115,-.06),(-.09,-.06),(-.16,-.16),(-.1,-.24),(.115,-.04),(.19,-.03),(.005,-.11),(.11,-.18),(.06,-.21),(-.04,-.36),(.025,-.39),(.09,-.38),(.15,-.43),(.19,-.47),(.165,-.51),(.005,-.51),(.05,-.57),(.085,-.58),(.16,-.66),(-.025,-.74),(.005,-.8),(-.18,-1.06),(-.075,-1.36),(.145,-1.3),(.155,-1.51),(.17,-1.58),(.05,-2.89)]
PTS_TSPEAR_M = [(-.125,1.64),(-.055,1.65),(.165,1.63),(-.18,1.58),(-.14,1.54),(-.18,1.42),(-.045,1.27),(.115,1.29),(.09,1.21),(.12,1.21),(-.17,1.19),(-.11,1.16),(-.005,1.16),(-.07,1.07),(.015,1.05),(-.125,1.03),(.125,.99),(.195,.92),(.05,.96),(-.13,.92),(-.195,.84),(.18,.84),(-.16,.88),(-.065,.88),(.1,.9),(-.02,.79),(.155,.79),(-.14,.71),(.07,.66),(-.09,.64),(.18,.6),(-.18,.58),(-.035,.58),(.125,.58),(-.195,.41),(-.075,.45),(.07,.41),(.17,.32),(0,.24),(-.15,.17),(-.09,.15),(.195,.19),(.055,.21),(-.195,-.04),(-.035,.02),(.125,.06),(.175,-.06),(-.11,-.15),(0,-.17),(.07,-.24),(-.195,-.45),(-.14,-.28),(.145,-.24),(.205,-.43),(0,-.43),(.17,-.47),(-.09,-.36),(.085,-.49),(-.075,-.64),(-.195,-.66),(.015,-.64),(.08,-.66),(.145,-.73),(-.16,-.69),(-.17,-.86),(-.11,-.86),(-.055,-.84),(.18,-.9),(-.085,-1.03),(.105,-.99),(0,-1.11),(.055,-1.09),(-.155,-1.16),(.1,-1.11),(.19,-1.19),(-.19,-1.26),(.02,-1.26),(.08,-1.35),(-.165,-1.44),(-.085,-1.41),(.15,-1.44),(-.105,-1.49),(.1,-1.58),(-.125,-1.74),(-.155,-1.74),(.19,-1.81),(-.02,-1.82),(-.15,-1.91),(-.05,-1.9),(.03,-1.92),(-.19,-2.04),(-.105,-2.09),(-.025,-2.12),(.08,-2.12),(-.135,-2.19),(-.08,-2.19),(-.17,-2.32),(.06,-2.35),(.135,-2.37),(-.075,-2.49),(-.075,-2.53),(.09,-2.5),(.16,-2.56),(.14,-2.63),(.065,-2.74),(.08,-2.94)]

TOP_BOXES = [(BOX_LINC_F, BOX_LINC_M), (BOX_FRG1BP_F, BOX_FRG1BP_M), (BOX_N283_F, BOX_N283_M), (BOX_NOX5_F, BOX_NOX5_M), (BOX_FRG1CP_F, BOX_FRG1CP_M)]
TOP_POINTS = [(PTS_LINC_F, PTS_LINC_M), (PTS_FRG1BP_F, PTS_FRG1BP_M), (PTS_N283_F, PTS_N283_M), (PTS_NOX5_F, PTS_NOX5_M), (PTS_FRG1CP_F, PTS_FRG1CP_M)]
BOTTOM_BOXES = [(BOX_TLX2_F, BOX_TLX2_M), (BOX_SMIM_F, BOX_SMIM_M), (BOX_N261_F, BOX_N261_M), (BOX_PRSS_F, BOX_PRSS_M), (BOX_TSPEAR_F, BOX_TSPEAR_M)]
BOTTOM_POINTS = [(PTS_TLX2_F, PTS_TLX2_M), (PTS_SMIM_F, PTS_SMIM_M), (PTS_N261_F, PTS_N261_M), (PTS_PRSS_F, PTS_PRSS_M), (PTS_TSPEAR_F, PTS_TSPEAR_M)]

W, H = 3600, 2400
fig = plt.figure(figsize=(12, 8), dpi=300, facecolor='white')


def px_axes(x0, y0, x1, y1):
    return fig.add_axes([x0 / W, 1 - y1 / H, (x1 - x0) / W, (y1 - y0) / H])


def strip(x0, y0, x1, y1, text, rotation=0, tx=.5, ty=.47):
    a = px_axes(x0, y0, x1, y1)
    a.set_facecolor('#D9D9D9')
    a.set_xticks([]); a.set_yticks([])
    for s in a.spines.values():
        s.set_visible(False)
    a.text(tx, ty, text, transform=a.transAxes, ha='center', va='center', fontsize=16,
           fontweight='bold', color='#1A1A1A', rotation=rotation, clip_on=True)


def panel(x0, x1, y0, y1, ylim, ticks, ticklabels, gene, boxes, points, bracket, first):
    strip(x0, strip_tops[y0], x1, y0, gene)
    ax = px_axes(x0, y0, x1, y1)
    ax.set_xlim(.4, 2.6)
    ax.set_ylim(*ylim)
    for s in ax.spines.values():
        s.set_visible(False)
    ax.set_xticks([])
    ax.set_yticks(ticks)
    ax.set_axisbelow(True)
    ax.yaxis.grid(True, color='#BEBEBE', lw=1.2, ls=(0, (1, 3)), clip_on=False)
    if first:
        ax.set_yticklabels(ticklabels, fontsize=13.5, color='#4D4D4D')
        ax.tick_params(axis='y', length=3, width=1.1, color='black', pad=3)
    else:
        ax.tick_params(axis='y', length=0, labelleft=False)
    stats = []
    for b, lab in zip(boxes, SEX_LABELS):
        stats.append(dict(q1=b[0], med=b[1], q3=b[2], whislo=b[3], whishi=b[4], label=lab, fliers=[]))
    art = ax.bxp(stats, positions=[1, 2], widths=.7, patch_artist=True, showcaps=False,
                 showfliers=False, manage_ticks=False, zorder=2,
                 boxprops=dict(edgecolor='black', linewidth=1.45),
                 whiskerprops=dict(color='black', linewidth=1.2, solid_capstyle='butt'),
                 medianprops=dict(color='black', linewidth=2.6, solid_capstyle='butt'))
    for patch, c in zip(art['boxes'], [FEMALE_COLOR, MALE_COLOR]):
        patch.set_facecolor(c)
    for i, pts in enumerate(points):
        xs = [i + 1 + p[0] for p in pts]
        ys = [p[1] for p in pts]
        ax.scatter(xs, ys, s=17, c='black', alpha=.5, linewidths=.55, edgecolors='black', zorder=3, clip_on=False)
    top, leg, base = bracket
    ax.plot([1, 1, 2, 2], [leg, top, top, leg], color='black', lw=1.15, solid_joinstyle='miter', zorder=4)
    ax.text(1.5, base, '****', ha='center', va='baseline', fontsize=11, color='black')


strip_tops = {127: 27, 1267: 1164}
TOP_X = [(239, 847), (872, 1479), (1504, 2112), (2135, 2744), (2769, 3377)]
BOT_X = [(191, 808), (833, 1451), (1474, 2094), (2117, 2735), (2758, 3377)]

for i in range(5):
    panel(TOP_X[i][0], TOP_X[i][1], 127, 1024, (-7.06, 5.58), TOP_TICKS, ['%.1f' % t for t in TOP_TICKS],
          TOP_GENES[i], TOP_BOXES[i], TOP_POINTS[i], (3.5, 3.14, 3.62), i == 0)
    panel(BOT_X[i][0], BOT_X[i][1], 1267, 2163, (-5.49, 6), BOTTOM_TICKS, [str(t) for t in BOTTOM_TICKS],
          BOTTOM_GENES[i], BOTTOM_BOXES[i], BOTTOM_POINTS[i], (4.5, 4.13, 4.62), i == 0)

strip(3377, 127, 3479, 1024, 'Male Bias', rotation=270, tx=.46, ty=.5)
strip(3377, 1267, 3479, 2163, 'Female Bias', rotation=270, tx=.46, ty=.5)

fig.text(55 / W, 1 - 575 / H, 'Residualized Expression', rotation=90, ha='center', va='center', fontsize=16, fontweight='bold')
fig.text(55 / W, 1 - 1715 / H, 'Residualized Expression', rotation=90, ha='center', va='center', fontsize=16, fontweight='bold')
fig.text(3536 / W, 1 - 1104 / H, 'DLPFC', rotation=270, ha='center', va='center', fontsize=22, fontweight='bold')

# legend, laid out in figure pixels
lg = fig.add_axes([0, 0, 1, 1], zorder=-1)
lg.set_xlim(0, W); lg.set_ylim(H, 0); lg.axis('off')
lg.text(1303, 2342, 'Sex', fontsize=18, fontweight='bold', va='center', ha='left')
for x0, color, label, tx in [(1493, FEMALE_COLOR, SEX_LABELS[0], 1605), (1912, MALE_COLOR, SEX_LABELS[1], 2022)]:
    lg.add_patch(Rectangle((x0, 2303), 72, 72, facecolor='#F2F2F2', edgecolor='none'))
    cx = x0 + 36
    lg.plot([cx, cx], [2308, 2370], color='black', lw=1.2, solid_capstyle='butt')
    lg.add_patch(Rectangle((cx - 29, 2320), 58, 38, facecolor=color, edgecolor='black', lw=1.45, zorder=3))
    lg.plot([cx - 29, cx + 29], [2339, 2339], color='black', lw=1.8, solid_capstyle='butt', zorder=4)
    lg.text(tx, 2342, label, fontsize=17.7, va='center', ha='left')

fig.savefig('out.png', dpi=300, facecolor='white')
